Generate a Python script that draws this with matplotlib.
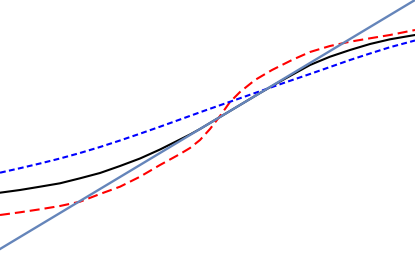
import numpy as np
import matplotlib
matplotlib.use('Agg')
import matplotlib.pyplot as plt

# positions along x (0..415) and curve heights (0..257)
black_x = [0, 20, 40, 60, 80, 100, 120, 140, 160, 175, 190, 200, 220, 240,
           260, 280, 300, 310, 330, 350, 370, 390, 415]
black_y = [64.3, 67, 70.3, 73.7, 78.7, 84, 91, 98.5, 107.5, 115, 122.5, 128,
           140, 152, 164, 175.5, 186.5, 192, 200.3, 207, 213, 217.7, 222]

red_x = [0, 20, 40, 60, 80, 100, 120, 140, 160, 180, 190, 200, 210, 220, 230,
         240, 255, 272, 292, 310, 330, 350, 370, 390, 415]
red_y = [42, 44.7, 47.7, 51, 55.3, 63, 70.3, 80.3, 92, 103, 109, 117, 128, 141,
         155, 165, 177, 187, 197, 205, 211, 215.3, 218.7, 222, 227]

blue_x = [0, 20, 40, 60, 80, 100, 120, 140, 160, 180, 205, 225, 245, 265, 285,
          310, 330, 350, 370, 390, 415]
blue_y = [84.3, 88.8, 93.5, 98.5, 104, 110, 116.5, 123.3, 130.3, 137.5, 146.5,
          153.5, 160.5, 167.5, 174.5, 183, 190, 197, 203.5, 209.8, 216.5]

line_x = [0, 415]
line_y = [8, 257]

fig = plt.figure(figsize=(4.15, 2.57), dpi=100)
ax = fig.add_axes([0, 0, 1, 1])

ax.plot(black_x, black_y, color='black', lw=1.5)
ax.plot(red_x, red_y, color='#ff0000', lw=1.5, dashes=(4.8, 2.4))
ax.plot(blue_x, blue_y, color='#0000ff', lw=1.5, dashes=(2.8, 1.6))
ax.plot(line_x, line_y, color='#6585ba', lw=1.7)

ax.set_xlim(0, 415)
ax.set_ylim(0, 257)
ax.axis('off')

fig.savefig('out.png', dpi=100)
